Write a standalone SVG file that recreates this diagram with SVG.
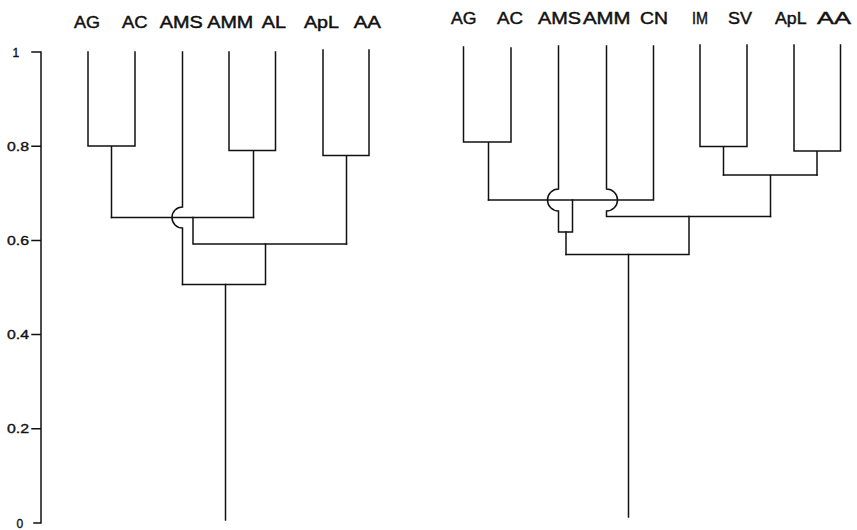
<svg xmlns="http://www.w3.org/2000/svg" width="857" height="530" viewBox="0 0 857 530">
<style>
  .ln { fill: none; stroke: #111; stroke-width: 1.5; stroke-linejoin: miter; stroke-linecap: square; }
  .lbl { font-family: "Liberation Sans", Arial, sans-serif; fill: #111; stroke: #111; stroke-width: 0.45; }
  .l1 { font-size: 16px; }
  .l2 { font-size: 17px; }
  .ax { font-family: "Liberation Sans", Arial, sans-serif; font-size: 12px; fill: #111; stroke: #111; stroke-width: 0.35; }
</style>
<rect width="857" height="530" fill="#fff"/>

<g id="axis">
  <path class="ln" d="M41,52 V523 M32,52 H41 M32,146.2 H41 M32,240.4 H41 M32,334.6 H41 M32,428.8 H41 M34,523 H41"/>
  <text class="ax" x="12.5" y="56.5">1</text>
  <text class="ax" x="7" y="150.7" textLength="22" lengthAdjust="spacingAndGlyphs">0.8</text>
  <text class="ax" x="7" y="244.9" textLength="22" lengthAdjust="spacingAndGlyphs">0.6</text>
  <text class="ax" x="7" y="339.1" textLength="22" lengthAdjust="spacingAndGlyphs">0.4</text>
  <text class="ax" x="7" y="433.3" textLength="22" lengthAdjust="spacingAndGlyphs">0.2</text>
  <text class="ax" x="16.5" y="527.5">0</text>
</g>

<g id="tree1-labels">
  <g id="t1-AG"><text class="lbl l1" x="74" y="27.5" textLength="26" lengthAdjust="spacingAndGlyphs">AG</text></g>
  <g id="t1-AC"><text class="lbl l1" x="122" y="27.5" textLength="25.5" lengthAdjust="spacingAndGlyphs">AC</text></g>
  <g id="t1-AMS"><text class="lbl l1" x="159.7" y="27.5" textLength="43" lengthAdjust="spacingAndGlyphs">AMS</text></g>
  <g id="t1-AMM"><text class="lbl l1" x="207.3" y="27.5" textLength="46" lengthAdjust="spacingAndGlyphs">AMM</text></g>
  <g id="t1-AL"><text class="lbl l1" x="261.7" y="27.5" textLength="24.3" lengthAdjust="spacingAndGlyphs">AL</text></g>
  <g id="t1-ApL"><text class="lbl l1" x="304" y="27.5" textLength="35" lengthAdjust="spacingAndGlyphs">ApL</text></g>
  <g id="t1-AA"><text class="lbl l1" x="353.7" y="27.5" textLength="27.3" lengthAdjust="spacingAndGlyphs">AA</text></g>
</g>

<g id="tree2-labels">
  <g id="t2-AG"><text class="lbl l2" x="451" y="23.5" textLength="25.5" lengthAdjust="spacingAndGlyphs">AG</text></g>
  <g id="t2-AC"><text class="lbl l2" x="497" y="23.5" textLength="26" lengthAdjust="spacingAndGlyphs">AC</text></g>
  <g id="t2-AMS"><text class="lbl l2" x="538" y="23.5" textLength="43" lengthAdjust="spacingAndGlyphs">AMS</text></g>
  <g id="t2-AMM"><text class="lbl l2" x="583" y="23.5" textLength="47.5" lengthAdjust="spacingAndGlyphs">AMM</text></g>
  <g id="t2-CN"><text class="lbl l2" x="640" y="23.5" textLength="28" lengthAdjust="spacingAndGlyphs">CN</text></g>
  <g id="t2-IM"><text class="lbl l2" x="692" y="23.5" textLength="16" lengthAdjust="spacingAndGlyphs">IM</text></g>
  <g id="t2-SV"><text class="lbl l2" x="728" y="23.5" textLength="24" lengthAdjust="spacingAndGlyphs">SV</text></g>
  <g id="t2-ApL"><text class="lbl l2" x="775" y="23.5" textLength="31.5" lengthAdjust="spacingAndGlyphs">ApL</text></g>
  <g id="t2-AA"><text class="lbl l2" x="817" y="23.5" textLength="34" lengthAdjust="spacingAndGlyphs">AA</text></g>
</g>

<g id="connectors">
  <!-- tree 1 -->
  <path class="ln" d="M88,52 V146 H135 V52 M111.5,146 V217.5"/>
  <path class="ln" d="M229,52 V150.5 H275.5 V52 M253.5,150.5 V217.5"/>
  <path class="ln" d="M323,50 V155.5 H369 V50 M346.5,155.5 V244"/>
  <path class="ln" d="M111.5,217.5 H253.5"/>
  <path class="ln" d="M182.5,52 V207 A10.5,10.5 0 0 0 182.5,228 V284.5"/>
  <path class="ln" d="M193,217.5 V244 H346.5"/>
  <path class="ln" d="M265.5,244 V284.5 H182.5"/>
  <path class="ln" d="M225.5,284.5 V520"/>
  <!-- tree 2 -->
  <path class="ln" d="M463.5,47 V142 H511 V48 M488.5,142 V200"/>
  <path class="ln" d="M488.5,200 H653.5 V46"/>
  <path class="ln" d="M558.5,46 V189 A11,11 0 0 0 558.5,211 V232 H572.5 V200"/>
  <path class="ln" d="M566,232 V254.5"/>
  <path class="ln" d="M606.5,46 V189 A11,11 0 0 1 606.5,211 V216.5 H770.5"/>
  <path class="ln" d="M700,45 V146.5 H747 V45 M723.5,146.5 V175"/>
  <path class="ln" d="M794,45 V151 H840.5 V45 M817,151 V175"/>
  <path class="ln" d="M723.5,175 H817 M770.5,175 V216.5"/>
  <path class="ln" d="M689,216.5 V254.5 H566"/>
  <path class="ln" d="M628.5,254.5 V517"/>
</g>
</svg>
